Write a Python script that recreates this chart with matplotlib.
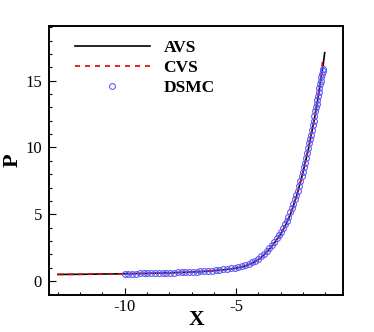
import matplotlib
matplotlib.use("Agg")
import matplotlib.pyplot as plt
from matplotlib.ticker import MultipleLocator

# ==============================
# DATA
# ==============================

avs_x = [-13.0, -12.0, -11.0, -10.0, -9.0, -8.0, -7.0, -6.5, -6.0, -5.5,
         -5.0, -4.75, -4.5, -4.25, -4.0, -3.75, -3.5, -3.25, -3.0, -2.75,
         -2.5, -2.25, -2.0, -1.75, -1.5, -1.35, -1.2, -1.1, -1.02]
avs_y = [0.50, 0.51, 0.53, 0.55, 0.58, 0.62, 0.68, 0.72, 0.78, 0.86,
         0.97, 1.06, 1.18, 1.36, 1.60, 1.96, 2.40, 2.92, 3.50, 4.28,
         5.25, 6.55, 8.10, 9.90, 12.00, 13.40, 15.00, 16.05, 17.10]

cvs_x = [-13.0, -12.0, -11.0, -10.0, -9.0, -8.0, -7.0, -6.5, -6.0, -5.5,
         -5.0, -4.75, -4.5, -4.25, -4.0, -3.75, -3.5, -3.25, -3.0, -2.75,
         -2.5, -2.25, -2.0, -1.75, -1.5, -1.35, -1.2, -1.12]
cvs_y = [0.50, 0.51, 0.53, 0.55, 0.58, 0.62, 0.68, 0.72, 0.78, 0.86,
         0.97, 1.06, 1.18, 1.36, 1.60, 1.96, 2.40, 2.92, 3.50, 4.28,
         5.25, 6.55, 8.10, 9.90, 12.00, 13.40, 15.00, 16.40]

dsmc_x = [-10.0, -9.83, -9.66, -9.49, -9.32, -9.15, -8.98, -8.81, -8.64, -8.47,
          -8.30, -8.13, -7.96, -7.79, -7.62, -7.45, -7.28, -7.11, -6.94, -6.77,
          -6.60, -6.43, -6.26, -6.09, -5.92, -5.75, -5.58, -5.41, -5.24, -5.07,
          -4.90, -4.74, -4.58, -4.43, -4.28, -4.14, -4.00, -3.87, -3.74, -3.62,
          -3.50, -3.39, -3.28, -3.18, -3.08, -2.99, -2.90, -2.81, -2.73, -2.65,
          -2.57, -2.50, -2.43, -2.36, -2.30, -2.24, -2.18, -2.12, -2.06, -2.01,
          -1.96, -1.91, -1.86, -1.81, -1.76, -1.72, -1.68, -1.64, -1.60, -1.56,
          -1.52, -1.48, -1.44, -1.41, -1.38, -1.35, -1.32, -1.29, -1.26, -1.23,
          -1.20, -1.17, -1.14, -1.11, -1.08]
dsmc_y = [0.56, 0.56, 0.57, 0.57, 0.58, 0.58, 0.59, 0.59, 0.60, 0.60,
          0.61, 0.62, 0.63, 0.64, 0.65, 0.66, 0.67, 0.68, 0.70, 0.71,
          0.73, 0.75, 0.77, 0.79, 0.81, 0.84, 0.87, 0.91, 0.95, 1.00,
          1.03, 1.10, 1.19, 1.29, 1.40, 1.52, 1.66, 1.85, 2.06, 2.27,
          2.49, 2.72, 2.96, 3.20, 3.44, 3.68, 3.95, 4.24, 4.52, 4.82,
          5.14, 5.45, 5.78, 6.13, 6.45, 6.78, 7.13, 7.49, 7.86, 8.18,
          8.52, 8.87, 9.23, 9.59, 9.97, 10.30, 10.63, 10.96, 11.30, 11.65,
          12.00, 12.36, 12.72, 13.00, 13.28, 13.56, 13.85, 14.14, 14.43, 14.72,
          15.01, 15.28, 15.52, 15.72, 15.85]

# ==============================
# STYLE
# ==============================

plt.rcParams["font.family"] = ["Liberation Serif", "DejaVu Serif"]
plt.rcParams["axes.unicode_minus"] = False

fig = plt.figure(figsize=(3.74, 3.32), dpi=100)
ax = fig.add_axes([0.131, 0.111, 0.786, 0.811])

# ==============================
# PLOT
# ==============================

ax.plot(avs_x, avs_y, color="black", lw=1.2, label="AVS")
ax.plot(cvs_x, cvs_y, color="#dd0000", lw=1.2, dashes=(3.0, 3.0), label="CVS")
ax.plot(dsmc_x, dsmc_y, ls="none", marker="o", ms=4.2, mfc="none",
        mec="#5a5aff", mew=0.8, label="DSMC")

ax.set_xlim(-13.4, -0.2)
ax.set_ylim(-1.05, 19.1)

ax.xaxis.set_major_locator(MultipleLocator(5))
ax.xaxis.set_minor_locator(MultipleLocator(1))
ax.yaxis.set_major_locator(MultipleLocator(5))
ax.yaxis.set_minor_locator(MultipleLocator(1))

ax.tick_params(which="both", direction="in", top=False, right=False,
               labelsize=12, width=0.8)
ax.tick_params(which="major", length=5)
ax.tick_params(which="minor", length=2.5)
ax.tick_params(axis="x", pad=3)
ax.tick_params(axis="y", pad=5)

for sp in ax.spines.values():
    sp.set_linewidth(1.4)

ax.set_xlabel("X", fontsize=15.5, fontweight="bold", labelpad=-3.5)
ax.set_ylabel("P", fontsize=16, fontweight="bold", labelpad=2)

ax.legend(loc="upper left", bbox_to_anchor=(0.035, 1.005), frameon=False,
          numpoints=1, handlelength=4.3, handletextpad=0.8, labelspacing=0.2,
          prop={"weight": "bold", "size": 12.5})

plt.savefig("out.png", dpi=100)
